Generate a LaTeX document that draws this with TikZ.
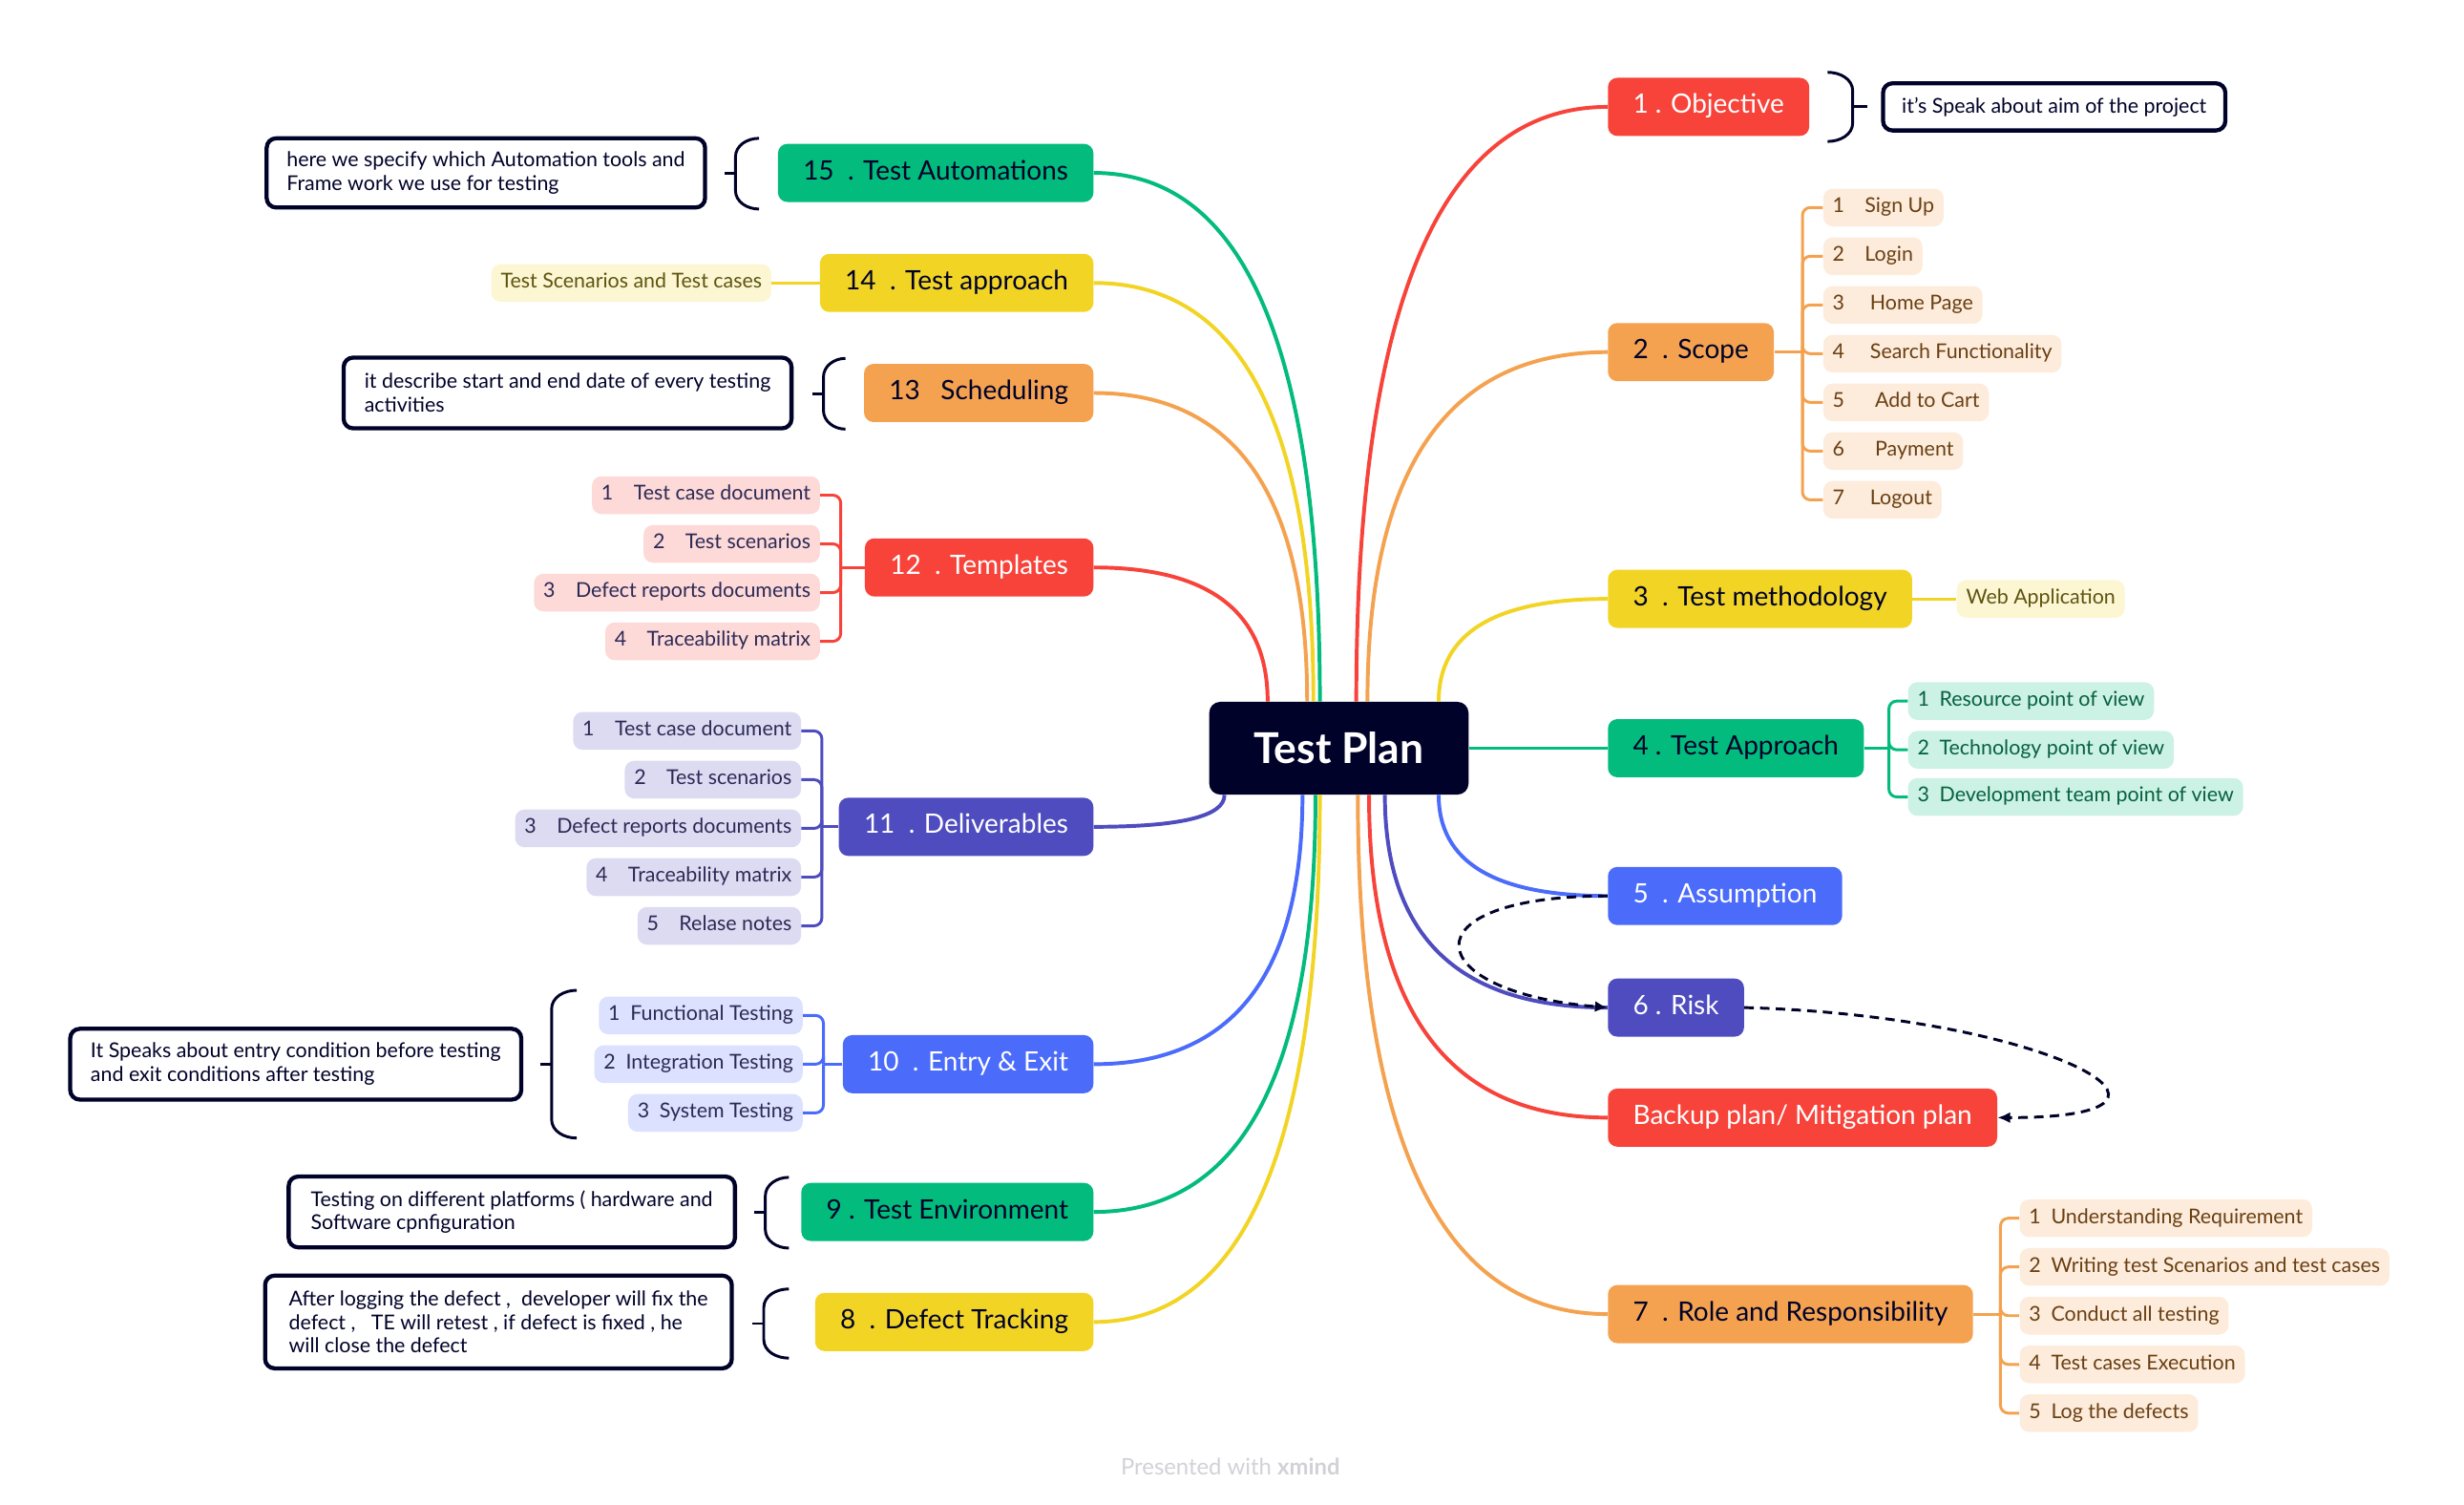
\documentclass[tikz,border=0pt]{standalone}
\usepackage{fontspec}
\setmainfont{Lato}
\usetikzlibrary{calc,arrows.meta}

\definecolor{Ink}{HTML}{000229}
\definecolor{Coral}{HTML}{F7433A}
\definecolor{Apricot}{HTML}{F4A24F}
\definecolor{Lemon}{HTML}{F2D424}
\definecolor{Mint}{HTML}{02BB7C}
\definecolor{Azure}{HTML}{4B6BFB}
\definecolor{Violet}{HTML}{4E4CBE}
\definecolor{Bark}{HTML}{6A3F12}
\definecolor{Dusk}{HTML}{2C2A55}
\definecolor{Olive}{HTML}{5E5410}
\definecolor{Pine}{HTML}{06613F}

\tikzset{
  root/.style={fill=Ink, text=white, rounded corners=7pt, minimum width=165pt, minimum height=59pt,
    text height=19pt, text depth=0pt, font=\fontsize{27}{30}\selectfont\bfseries},
  topic/.style={fill=#1, text=Ink, rounded corners=6pt, minimum height=37pt, inner xsep=16pt,
    text height=12pt, text depth=3.5pt, font=\fontsize{17}{20}\selectfont},
  leaf/.style={fill=#1!20, rounded corners=6pt, minimum height=24pt, inner xsep=6pt,
    text height=9.5pt, text depth=3pt, font=\fontsize{13}{15}\selectfont},
  note/.style={draw=Ink, line width=2.6pt, fill=white, text=Ink, rounded corners=6pt, inner xsep=12pt,
    align=left, font=\fontsize{13}{15}\selectfont},
  wire/.style={draw=#1, line width=2.4pt},
  twig/.style={draw=#1, line width=1.8pt, rounded corners=5pt},
  bracket/.style={draw=Ink, line width=1.8pt},
  link/.style={draw=Ink, line width=1.8pt, dash pattern=on 6pt off 4pt, -{Latex[length=8pt,width=7pt]}},
}

\newcommand{\stem}[4]{% Parameters: colour, side of root, fraction, topic anchor
  \coordinate (s) at ($(root.#2 west)!#3!(root.#2 east)$);
  \draw[wire=#1] (s) .. controls ($(s)!.667!(s |- #4)$) and ($(#4)!.667!(s |- #4)$) .. (#4);
}
\newcommand{\openbrace}[4]{% Parameters: tip x, bow x, top, bottom
  \draw[bracket] (#1,#3) to[out=180,in=90] (#2,#3+12) -- (#2,#4-12) to[out=-90,in=180] (#1,#4);
  \draw[bracket] (#2,{(#3+#4)/2}) -- ++(-7,0);
}
\newcommand{\closebrace}[4]{% Parameters: tip x, bow x, top, bottom
  \draw[bracket] (#1,#3) to[out=0,in=90] (#2,#3+12) -- (#2,#4-12) to[out=-90,in=0] (#1,#4);
  \draw[bracket] (#2,{(#3+#4)/2}) -- ++(9,0);
}

\begin{document}
\begin{tikzpicture}[x=1pt,y=-1pt]
  \useasboundingbox (0,0) rectangle (1568,957);

  \node[root] (root) at (852,476) {Test Plan};

  % right hand topics
  \node[topic=Coral, text=white, anchor=west] (obj) at (1023,68) {1 . Objective};
  \node[topic=Apricot, anchor=west] (scope) at (1023,224) {2\ \ . Scope};
  \node[topic=Lemon, anchor=west] (meth) at (1023,381) {3\ \ . Test methodology};
  \node[topic=Mint, anchor=west] (appr) at (1023,476) {4 . Test Approach};
  \node[topic=Azure, text=white, anchor=west] (asm) at (1023,570) {5\ \ . Assumption};
  \node[topic=Violet, text=white, anchor=west] (risk) at (1023,641) {6 . Risk};
  \node[topic=Coral, text=white, anchor=west] (backup) at (1023,711) {Backup plan/ Mitigation plan};
  \node[topic=Apricot, anchor=west] (role) at (1023,836) {7\ \ . Role and Responsibility};

  % left hand topics
  \node[topic=Mint, anchor=east] (auto) at (696,110) {15\ \ . Test Automations};
  \node[topic=Lemon, anchor=east] (tappr) at (696,180) {14\ \ . Test approach};
  \node[topic=Apricot, anchor=east] (sched) at (696,250) {13\ \ \ Scheduling};
  \node[topic=Coral, text=white, anchor=east] (tmpl) at (696,361) {12\ \ . Templates};
  \node[topic=Violet, text=white, anchor=east] (deliv) at (696,526) {11\ \ . Deliverables};
  \node[topic=Azure, text=white, anchor=east] (entry) at (696,677) {10\ \ . Entry \& Exit};
  \node[topic=Mint, anchor=east] (env) at (696,771) {9 . Test Environment};
  \node[topic=Lemon, anchor=east] (track) at (696,841) {8\ \ . Defect Tracking};

  \stem{Coral}{north}{.567}{obj.west}
  \stem{Apricot}{north}{.610}{scope.west}
  \stem{Lemon}{north}{.884}{meth.west}
  \draw[wire=Mint] (root.east) -- (appr.west);
  \stem{Azure}{south}{.884}{asm.west}
  \stem{Violet}{south}{.677}{risk.west}
  \stem{Coral}{south}{.616}{backup.west}
  \stem{Apricot}{south}{.573}{role.west}
  \stem{Mint}{north}{.427}{auto.east}
  \stem{Lemon}{north}{.402}{tappr.east}
  \stem{Apricot}{north}{.378}{sched.east}
  \stem{Coral}{north}{.226}{tmpl.east}
  \stem{Violet}{south}{.06}{deliv.east}
  \stem{Azure}{south}{.36}{entry.east}
  \stem{Mint}{south}{.41}{env.east}
  \stem{Lemon}{south}{.427}{track.east}

  % scope
  \coordinate (scope-j) at (1147,224);
  \draw[twig=Apricot] (scope.east) -- (scope-j);
  \foreach \y/\txt [count=\i] in {132/{1\quad Sign Up}, 163/{2\quad Login}, 194/{3\quad\ Home Page},
      225/{4\quad\ Search Functionality}, 256/{5\quad\enspace Add to Cart}, 287/{6\quad\enspace Payment},
      318/{7\quad\ Logout}}{
    \node[leaf=Apricot, text=Bark, anchor=west] (sc\i) at (1160,\y) {\txt};
    \draw[twig=Apricot] (scope-j) |- (sc\i.west);
  }

  \node[leaf=Lemon, text=Olive, anchor=west] (web) at (1245,381) {Web Application};
  \draw[twig=Lemon] (meth.east) -- (web.west);

  % test approach
  \coordinate (appr-j) at (1202,476);
  \draw[twig=Mint] (appr.east) -- (appr-j);
  \foreach \y/\txt [count=\i] in {446/{1\enspace Resource point of view}, 477/{2\enspace Technology point of view},
      507/{3\enspace Development team point of view}}{
    \node[leaf=Mint, text=Pine, anchor=west] (ap\i) at (1214,\y) {\txt};
    \draw[twig=Mint] (appr-j) |- (ap\i.west);
  }

  % role and responsibility
  \coordinate (role-j) at (1273,836);
  \draw[twig=Apricot] (role.east) -- (role-j);
  \foreach \y/\txt [count=\i] in {775/{1\enspace Understanding Requirement},
      806/{2\enspace Writing test Scenarios and test cases}, 837/{3\enspace Conduct all testing},
      868/{4\enspace Test cases Execution}, 899/{5\enspace Log the defects}}{
    \node[leaf=Apricot, text=Bark, anchor=west] (rl\i) at (1285,\y) {\txt};
    \draw[twig=Apricot] (role-j) |- (rl\i.west);
  }

  \node[leaf=Lemon, text=Olive, anchor=east] (cases) at (491,180) {Test Scenarios and Test cases};
  \draw[twig=Lemon] (tappr.west) -- (cases.east);

  % templates
  \coordinate (tmpl-j) at (535,361);
  \draw[twig=Coral] (tmpl.west) -- (tmpl-j);
  \foreach \y/\txt [count=\i] in {315/{1\quad Test case document}, 346/{2\quad Test scenarios},
      377/{3\quad Defect reports documents}, 408/{4\quad Traceability matrix}}{
    \node[leaf=Coral, text=Dusk, anchor=east] (tp\i) at (522,\y) {\txt};
    \draw[twig=Coral] (tmpl-j) |- (tp\i.east);
  }

  % deliverables
  \coordinate (deliv-j) at (523,526);
  \draw[twig=Violet] (deliv.west) -- (deliv-j);
  \foreach \y/\txt [count=\i] in {465/{1\quad Test case document}, 496/{2\quad Test scenarios},
      527/{3\quad Defect reports documents}, 558/{4\quad Traceability matrix}, 589/{5\quad Relase notes}}{
    \node[leaf=Violet, text=Dusk, anchor=east] (dl\i) at (510,\y) {\txt};
    \draw[twig=Violet] (deliv-j) |- (dl\i.east);
  }

  % entry and exit
  \coordinate (entry-j) at (524,677);
  \draw[twig=Azure] (entry.west) -- (entry-j);
  \foreach \y/\txt [count=\i] in {646/{1\enspace Functional Testing}, 677/{2\enspace Integration Testing},
      708/{3\enspace System Testing}}{
    \node[leaf=Azure, text=Dusk, anchor=east] (ex\i) at (511,\y) {\txt};
    \draw[twig=Azure] (entry-j) |- (ex\i.east);
  }

  % notes
  \node[note, minimum height=30pt, anchor=west] (obj-note) at (1197,68) {it's Speak about aim of the project};
  \closebrace{1163}{1179}{46}{90}
  \node[note, minimum width=279pt, minimum height=44pt, anchor=east] (auto-note) at (450,110)
    {here we specify which Automation tools and\\Frame work we use for testing};
  \openbrace{483}{468}{88}{133}
  \node[note, minimum width=285pt, minimum height=45pt, anchor=east] (sched-note) at (505,250)
    {it describe start and end date of every testing\\activities};
  \openbrace{538}{524}{228}{273}
  \node[note, minimum width=287pt, minimum height=45pt, anchor=east] (entry-note) at (333,677)
    {It Speaks about entry condition before testing\\and exit conditions after testing};
  \openbrace{367}{351}{630}{724}
  \node[note, minimum width=284pt, minimum height=45pt, anchor=east] (env-note) at (469,771)
    {Testing on different platforms ( hardware and\\Software cpnfiguration};
  \openbrace{502}{487}{749}{794}
  \node[note, minimum width=297pt, minimum height=59pt, anchor=east] (track-note) at (467,841)
    {After logging the defect ,\ \ developer will fix the\\defect ,\ \ \ TE will retest , if defect is fixed , he\\will close the defect};
  \openbrace{502}{486}{820}{864}

  % dashed links
  \draw[link] (asm.west) .. controls +(-130,0) and +(-120,-10) .. (risk.west);
  \draw[link] (risk.east) .. controls +(190,5) and +(152,0) .. (backup.east);

  \node[font=\fontsize{14.5}{17}\selectfont, text=Ink!18] (credit) at (783,933) {Presented with \textbf{xmind}};
\end{tikzpicture}
\end{document}
